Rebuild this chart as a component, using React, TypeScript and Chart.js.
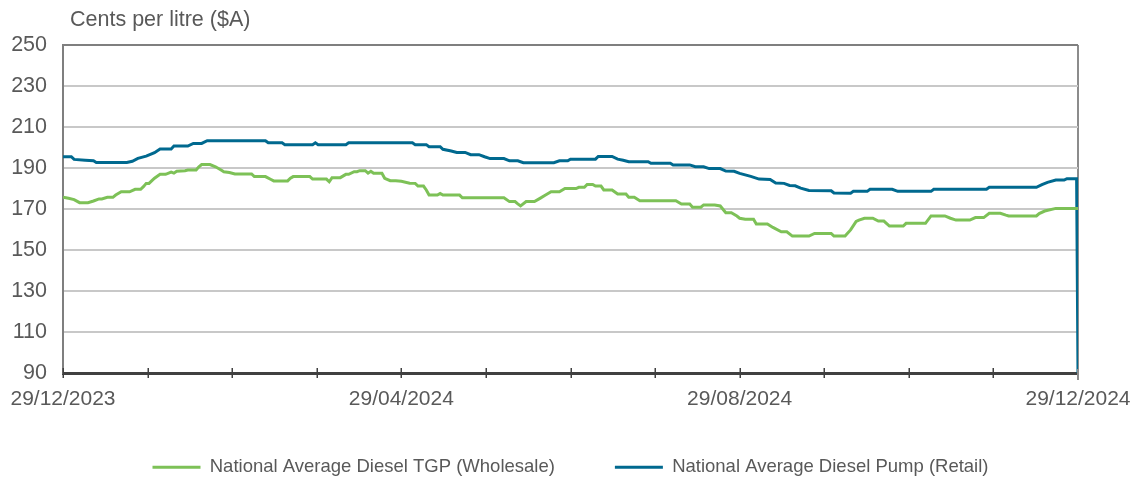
import React, { useEffect, useRef } from "react";
import { Chart, registerables } from "chart.js";

Chart.register(...registerables);

const FONT = "'Liberation Sans', Arial, Helvetica, sans-serif";
const TEXT_COLOR = "#595959";

const yAxisTitle = "Cents per litre ($A)";
const seriesNames = ["National Average Diesel TGP (Wholesale)", "National Average Diesel Pump (Retail)"];
const xTickLabels = ["29/12/2023", "29/04/2024", "29/08/2024", "29/12/2024"];
const xMaxDay = 366; // days from 29/12/2023 to 29/12/2024
const xMinorStep = 30.5; // monthly minor ticks
const yMin = 90;
const yMax = 250;
const yStep = 20;

// Day offsets from 29/12/2023 and values (cents per litre)
const tgpDays = [
  0, 2, 4, 6, 9, 11, 13, 14, 16, 18, 19, 21, 24, 26, 28, 29, 30, 31, 33, 35, 37, 39, 40, 41, 44, 45, 48, 49, 50, 53,
  55, 57, 58, 60, 62, 68, 69, 73, 75, 76, 81, 82, 83, 89, 90, 95, 96, 97, 100, 102, 103, 105, 106, 107, 109, 110, 111, 112, 115, 116,
  118, 120, 122, 125, 127, 128, 130, 131, 132, 135, 136, 137, 143, 144, 159, 161, 163, 164, 165, 167, 170, 172, 174, 176, 179, 181, 185, 186, 188, 189,
  191, 192, 194, 195, 198, 200, 203, 204, 206, 208, 221, 223, 226, 227, 230, 231, 235, 237, 239, 241, 243, 244, 246, 249, 250, 254, 256, 259, 261, 263,
  269, 271, 277, 278, 282, 284, 286, 287, 289, 292, 294, 296, 298, 303, 304, 311, 313, 318, 320, 322, 327, 329, 332, 334, 338, 340, 341, 351, 352, 354,
  358, 366,
];
const tgpValues = [
  175.7, 175.2, 174.6, 173.1, 173.1, 173.9, 174.9, 174.9, 175.7, 175.7, 176.8, 178.4, 178.4, 179.6, 179.6, 180.9, 182.5, 182.5, 185, 186.9, 186.9, 188, 187.5, 188.4, 188.7, 189, 189, 190.6, 191.7, 191.7,
  190.6, 189, 188.2, 187.8, 187.1, 187.1, 185.8, 185.8, 184.4, 183.7, 183.7, 185, 185.8, 185.8, 184.6, 184.6, 183.3, 185.3, 185.3, 186.9, 186.9, 188.2, 188.2, 188.7, 188.7, 187.5, 188.4, 187.4, 187.4, 185,
  183.8, 183.8, 183.5, 182.6, 182.5, 181.2, 181.2, 179.3, 176.8, 176.8, 177.6, 176.8, 176.8, 175.5, 175.5, 173.6, 173.6, 172.5, 171.5, 173.6, 173.6, 175.2, 176.8, 178.4, 178.4, 180, 180, 180.6, 180.6, 182,
  182, 181.2, 181.2, 179.3, 179.3, 177.3, 177.3, 175.7, 175.7, 174, 174, 172.4, 172.4, 170.9, 170.9, 172, 172, 171.5, 168.2, 168.2, 166.6, 165.5, 165, 165, 162.7, 162.7, 161, 158.9, 158.9, 156.8,
  156.8, 158.1, 158.1, 156.8, 156.8, 159.8, 163.9, 164.6, 165.5, 165.5, 164.1, 164.1, 161.7, 161.7, 163, 163, 166.6, 166.6, 165.5, 164.6, 164.6, 165.8, 165.8, 167.9, 167.9, 167, 166.6, 166.6, 167.8, 169,
  170.3, 170.3,
];

const pumpDays = [
  0, 3, 4, 8, 11, 12, 23, 25, 27, 30, 33, 35, 39, 40, 45, 47, 50, 52, 73, 74, 79, 80, 90, 91, 92, 102, 103, 126, 127, 131,
  132, 136, 137, 140, 142, 145, 147, 150, 152, 154, 159, 161, 164, 166, 177, 179, 182, 183, 192, 193, 198, 200, 202, 204, 211, 212, 219, 220, 226, 228,
  231, 233, 237, 239, 242, 244, 248, 251, 255, 257, 260, 262, 264, 266, 269, 277, 278, 284, 285, 290, 291, 299, 301, 313, 314, 333, 334, 351, 353, 355,
  358, 361, 362, 365.5, 366,
];
const pumpValues = [
  195.5, 195.5, 194.2, 193.8, 193.5, 192.7, 192.7, 193.3, 194.7, 195.8, 197.5, 199.3, 199.3, 200.7, 200.7, 202, 202, 203.3, 203.3, 202.3, 202.3, 201.4, 201.4, 202.3, 201.4, 201.4, 202.3, 202.3, 201.4, 201.4,
  200.4, 200.4, 199.1, 198.3, 197.6, 197.6, 196.5, 196.5, 195.5, 194.6, 194.6, 193.5, 193.5, 192.6, 192.6, 193.5, 193.5, 194.3, 194.3, 195.6, 195.6, 194.3, 193.8, 193.1, 193.1, 192.3, 192.3, 191.5, 191.5, 190.6,
  190.6, 189.7, 189.7, 188.5, 188.4, 187.4, 185.9, 184.6, 184.4, 182.7, 182.5, 181.5, 181.3, 180.2, 179, 178.9, 177.8, 177.7, 178.6, 178.6, 179.6, 179.6, 178.6, 178.6, 179.6, 179.6, 180.6, 180.6, 181.9, 183,
  184.1, 184.1, 184.8, 184.8, 90,
];

const GREEN = "#7dc157";
const BLUE = "#00698f";

const decorPlugin = {
  id: "decor",
  afterDraw(chart: any) {
    const { ctx, chartArea, scales } = chart;
    const x = scales.x;
    ctx.save();
    // tick marks crossing the x axis
    x.ticks.forEach((t: any) => {
      const px = Math.round(x.getPixelForValue(t.value));
      ctx.beginPath();
      if (t.value >= xMaxDay) {
        ctx.strokeStyle = "#8c8c8c";
        ctx.lineWidth = 2;
        ctx.moveTo(px, chartArea.bottom - 4);
        ctx.lineTo(px, chartArea.bottom + 7);
      } else {
        ctx.strokeStyle = "#404040";
        ctx.lineWidth = 1.5;
        ctx.moveTo(px + 0.25, chartArea.bottom - 5);
        ctx.lineTo(px + 0.25, chartArea.bottom + 5);
      }
      ctx.stroke();
    });
    // axis title
    ctx.font = `21.5px ${FONT}`;
    ctx.fillStyle = TEXT_COLOR;
    ctx.textAlign = "left";
    ctx.textBaseline = "alphabetic";
    ctx.fillText(yAxisTitle, chartArea.left + 7, 26);
    ctx.restore();
  },
};

export default function App() {
  const ref = useRef<HTMLCanvasElement | null>(null);

  useEffect(() => {
    if (!ref.current) return;
    const baseGen = (Chart as any).defaults.plugins.legend.labels.generateLabels;
    const chart = new Chart(ref.current, {
      type: "line",
      data: {
        datasets: [
          {
            label: seriesNames[0],
            data: tgpDays.map((d, i) => ({ x: d, y: tgpValues[i] })),
            borderColor: GREEN,
            backgroundColor: GREEN,
            borderWidth: 3,
            pointRadius: 0,
            tension: 0,
            fill: false,
          },
          {
            label: seriesNames[1],
            data: pumpDays.map((d, i) => ({ x: d, y: pumpValues[i] })),
            borderColor: BLUE,
            backgroundColor: BLUE,
            borderWidth: 3,
            pointRadius: 0,
            tension: 0,
            fill: false,
          },
        ],
      },
      options: {
        animation: false,
        responsive: false,
        maintainAspectRatio: false,
        layout: { padding: { left: 0, right: 58, top: 45, bottom: 0 } },
        plugins: {
          tooltip: { enabled: false },
          title: { display: false },
          legend: {
            position: "bottom",
            fullSize: false,
            maxHeight: 82,
            labels: {
              boxWidth: 48,
              boxHeight: 3,
              padding: 60,
              color: TEXT_COLOR,
              font: { family: FONT, size: 18.5 },
              generateLabels: (c: any) =>
                baseGen(c).map((l: any) => ({ ...l, lineWidth: 0, fillStyle: l.strokeStyle })),
            },
          },
        },
        scales: {
          x: {
            type: "linear",
            min: 0,
            max: xMaxDay,
            afterFit: (s: any) => {
              s.height = 25;
              // let the date labels extend below the (short) axis box
              s._computeLabelArea = () => ({ top: s.top, left: 0, bottom: s.chart.height, right: s.chart.width });
            },
            ticks: {
              stepSize: xMinorStep,
              autoSkip: false,
              maxRotation: 0,
              minRotation: 0,
              padding: 4,
              color: TEXT_COLOR,
              font: { family: FONT, size: 21, lineHeight: 2.1 },
              callback: (_v: any, i: number) => (i % 4 === 0 ? xTickLabels[i / 4] : ""),
            },
            grid: {
              drawOnChartArea: true,
              drawTicks: false,
              lineWidth: 2,
              color: (c: any) => (c.tick && c.tick.value >= xMaxDay ? "#8c8c8c" : "rgba(0,0,0,0)"),
            },
            border: { color: "#404040", width: 3 },
          },
          y: {
            min: yMin,
            max: yMax,
            afterFit: (s: any) => {
              s.width = 63;
            },
            ticks: {
              stepSize: yStep,
              padding: 16,
              color: TEXT_COLOR,
              font: { family: FONT, size: 21.5 },
            },
            grid: {
              drawTicks: false,
              lineWidth: 2,
              color: (c: any) =>
                c.tick && c.tick.value === yMax
                  ? "#7f7f7f"
                  : c.tick && c.tick.value === yMin
                  ? "rgba(0,0,0,0)"
                  : "#c8c8c8",
            },
            border: { color: "#7f7f7f", width: 2 },
          },
        },
      },
      plugins: [decorPlugin],
    });
    return () => chart.destroy();
  }, []);

  return (
    <div style={{ position: "fixed", left: 0, top: 0, width: 1136, height: 480, background: "#fff" }}>
      <canvas ref={ref} width={1136} height={480} style={{ display: "block", width: 1136, height: 480 }} />
    </div>
  );
}
